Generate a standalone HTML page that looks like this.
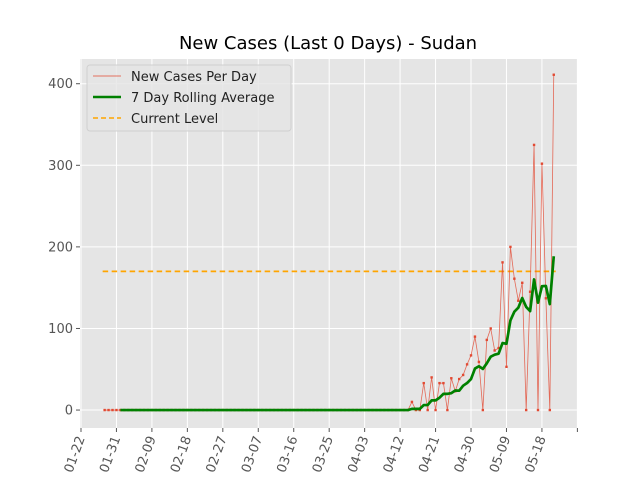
<!DOCTYPE html>
<html><head><meta charset="utf-8"><style>
body{margin:0;background:#fff;}
svg{display:block;font-family:"DejaVu Sans","Liberation Sans",sans-serif;}
</style></head><body>
<svg id="chart" width="640" height="480">
<text x="328" y="49" font-size="18" text-anchor="middle" fill="#000">New Cases (Last 0 Days) - Sudan</text>
<rect x="80" y="59" width="497" height="369" fill="#e5e5e5"/>
<g id="grid"></g><g id="axes"></g><g id="series"></g>
<g>
<rect x="87" y="65" width="204" height="66" rx="3" fill="#e5e5e5" stroke="#d0d0d0" fill-opacity="0.8"/>
<line x1="93" y1="76" x2="121" y2="76" stroke="#E24A33" stroke-width="0.8"/>
<text x="131" y="81" font-size="13" fill="#222">New Cases Per Day</text>
<line x1="93" y1="97" x2="121" y2="97" stroke="#008000" stroke-width="2.5"/>
<text x="131" y="102" font-size="13" fill="#222">7 Day Rolling Average</text>
<line x1="93" y1="118" x2="121" y2="118" stroke="#FFA500" stroke-width="1.5" stroke-dasharray="5,3"/>
<text x="131" y="123" font-size="13" fill="#222">Current Level</text>
</g>
</svg>
<script>
const startDay = 6;
const newCases = [0,0,0,0,0,0,0,0,0,0, 0,0,0,0,0,0,0,0,0,0, 0,0,0,0,0,0,0,0,0,0, 0,0,0,0,0,0,0,0,0,0, 0,0,0,0,0,0,0,0,0,0, 0,0,0,0,0,0,0,0,0,0, 0,0,0,0,0,0,0,0,0,0, 0,0,0,0,0,0,0,0,
 10,0,0,33,0,40,0,33,33,0,39,23,38,43,56,67,90,59,0,86,100,73,76,181,53,200,161,134,156,0,145,325,0,302,137,0,411];
const currentLevel = [170];
const xTickLabels = ["01-22","01-31","02-09","02-18","02-27","03-07","03-16","03-25","04-03","04-12","04-21","04-30","05-09","05-18",""];
const yTicks = [0,100,200,300,400];

const NS="http://www.w3.org/2000/svg";
const X0=80,X1=577,Y0=59,Y1=428;
const xMin=-0.25,xMax=125.9,yMin=-22,yMax=430.3;
const xs=d=>X0+(d-xMin)/(xMax-xMin)*(X1-X0);
const ys=v=>Y1-(v-yMin)/(yMax-yMin)*(Y1-Y0);
function mk(tag,attrs,parent){const e=document.createElementNS(NS,tag);for(const k in attrs)e.setAttribute(k,attrs[k]);parent.appendChild(e);return e;}
const grid=document.getElementById('grid'),axes=document.getElementById('axes'),ser=document.getElementById('series');
xTickLabels.forEach((lab,i)=>{const x=xs(i*9);
 let g=mk('line',{x1:x,x2:x,y1:Y0,y2:Y1,stroke:'#fff','stroke-width':1},grid);
 
 
 let t=mk('line',{x1:x,x2:x,y1:Y1,y2:Y1+4,stroke:'#555'},axes);
 
 
 if(lab){let tx=mk('text',{x:x+4,y:Y1+10,'font-size':13,fill:'#555','text-anchor':'end',transform:`rotate(-70 ${x+4} ${Y1+10})`},axes);tx.textContent=lab;
 
 }
});
yTicks.forEach(v=>{const y=ys(v);
 let g=mk('line',{x1:X0,x2:X1,y1:y,y2:y,stroke:'#fff','stroke-width':1},grid);
 
 
 let t=mk('line',{x1:X0-4,x2:X0,y1:y,y2:y,stroke:'#555'},axes);
 
 
 let tx=mk('text',{x:X0-7,y:y+4.5,'font-size':13,fill:'#555','text-anchor':'end'},axes);tx.textContent=v;
 
 
});
const lastDay=startDay+newCases.length-1;
let cl=mk('line',{x1:xs(startDay-0.5),x2:xs(lastDay+0.5),y1:ys(currentLevel[0]),y2:ys(currentLevel[0]),stroke:'#FFA500','stroke-width':1.7,'stroke-dasharray':'5.5,3.5'},ser);


const pts=newCases.map((v,i)=>xs(startDay+i)+','+ys(v)).join(' ');
let pl=mk('polyline',{points:pts,fill:'none',stroke:'#E24A33','stroke-width':0.8,'stroke-opacity':0.8},ser);


newCases.forEach((v,i)=>{let r=mk('rect',{x:xs(startDay+i)-1.2,y:ys(v)-1.2,width:2.4,height:2.4,fill:'#E24A33'},ser);
 
 });
const avg=[];
newCases.forEach((v,i)=>{if(i<4)return;const s=newCases.slice(Math.max(0,i-6),i+1);avg.push(xs(startDay+i)+','+ys(s.reduce((a,b)=>a+b,0)/s.length));});
let al=mk('polyline',{points:avg.join(' '),fill:'none',stroke:'#008000','stroke-width':2.7,'stroke-linejoin':'round'},ser);


</script>
</body></html>
